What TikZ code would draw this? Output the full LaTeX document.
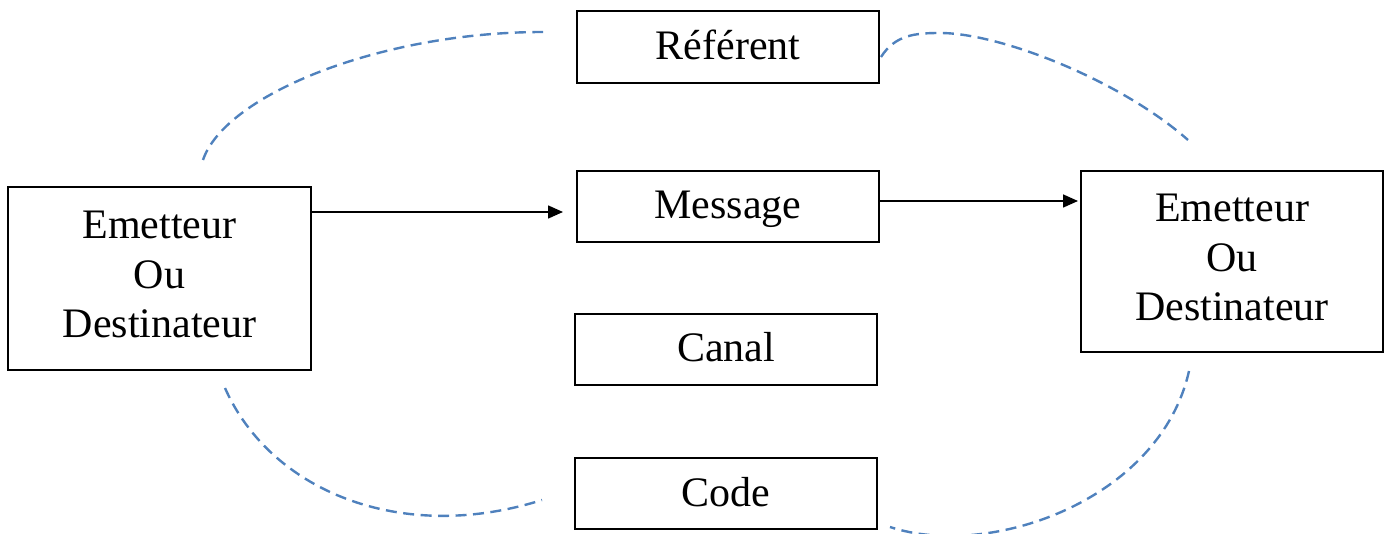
\documentclass[tikz,border=0pt]{standalone}
\usepackage{fontspec}
\setmainfont{Liberation Serif}
\usetikzlibrary{arrows.meta}
\definecolor{dashblue}{RGB}{79,129,189}
\begin{document}
\begin{tikzpicture}[x=1pt,y=-1pt,
  box/.style={draw=black,line width=1.6pt,minimum width=302pt,inner sep=0pt,font=\fontsize{42}{49.5}\selectfont},
  onebox/.style={box,minimum height=72pt,text height=28pt,text depth=3pt},
  bigbox/.style={box,align=center,text depth=8pt},
  link/.style={draw=dashblue,line width=2.4pt,dash pattern=on 11pt off 6.5pt},
  arr/.style={line width=1.6pt,-{Triangle[length=15pt,width=13pt]}}]
\useasboundingbox (0,0) rectangle (1389,534);
\node[onebox] (ref) at (728,47) {Référent};
\node[onebox,minimum height=71pt] (msg) at (728,206.5) {Message};
\node[onebox,minimum height=71pt] (can) at (726,349.5) {Canal};
\node[onebox,minimum height=71pt] (cod) at (726,493.5) {Code};
\node[bigbox,minimum width=303pt,minimum height=183pt] (left) at (159.5,278.5) {Emetteur\\Ou\\Destinateur};
\node[bigbox,minimum height=181pt] (right) at (1232,261.5) {Emetteur\\Ou\\Destinateur};
\coordinate (a1) at (563,212);
\coordinate (a2) at (1078,201);
\draw[arr] (left.east |- a1) -- (a1);
\draw[arr] (msg.east |- a2) -- (a2);
\coordinate (c1s) at (203,160);
\coordinate (c1e) at (543,32);
\coordinate (c2s) at (881,57);
\coordinate (c2m) at (940,33);
\coordinate (c2e) at (1188,140);
\coordinate (c3s) at (225,388);
\coordinate (c3e) at (542,500);
\coordinate (c4s) at (1189,371);
\coordinate (c4e) at (890,527);
\draw[link] (c1s) .. controls (225,95) and (380,32) .. (c1e);
\draw[link] (c2s) .. controls (895,35) and (915,33) .. (c2m) .. controls (1000,33) and (1120,80) .. (c2e);
\draw[link] (c3s) .. controls (270,490) and (400,545) .. (c3e);
\draw[link] (c4s) .. controls (1160,500) and (990,560) .. (c4e);
\end{tikzpicture}
\end{document}
